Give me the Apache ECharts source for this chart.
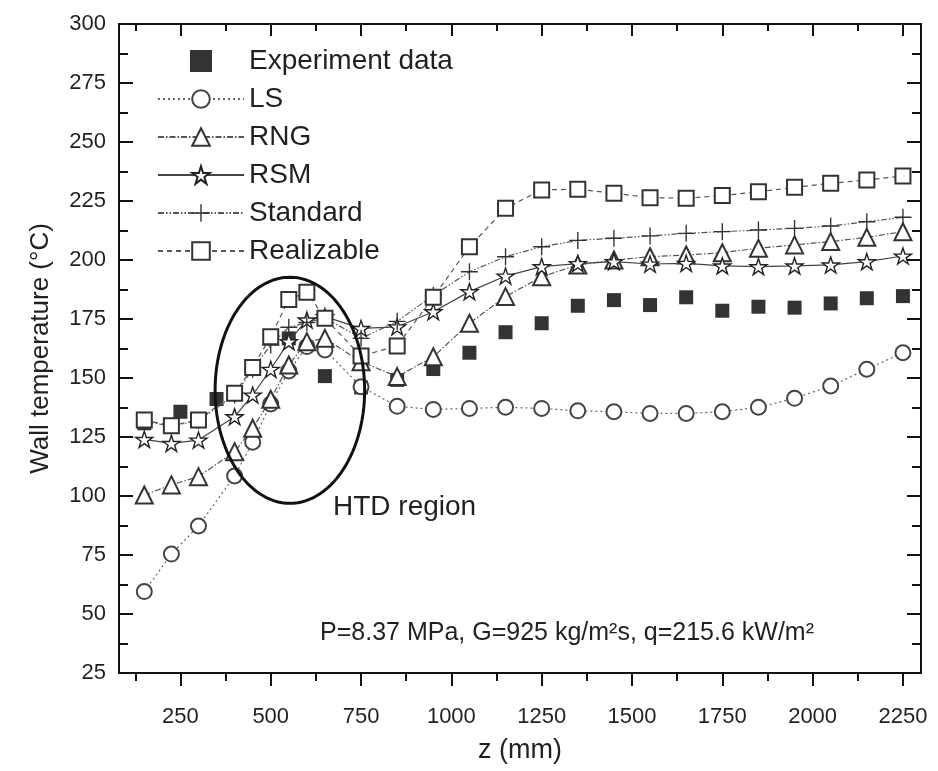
<!DOCTYPE html>
<html><head><meta charset="utf-8">
<script src="https://cdn.jsdelivr.net/npm/echarts@6/dist/echarts.min.js"></script>
<style>html,body{margin:0;padding:0;background:#fff}#c{width:938px;height:771px}</style>
</head><body><div id="c"></div>
<script>
// ---- data ----
const zSim = [150,225,300,400,450,500,550,600,650,750,850,950,1050,1150,1250,1350,1450,1550,1650,1750,1850,1950,2050,2150,2250];
const zExp = [150,250,350,450,550,650,750,850,950,1050,1150,1250,1350,1450,1550,1650,1750,1850,1950,2050,2150,2250];
const expData = [130.8,135.7,141.1,154.5,166.8,150.8,146,149.2,153.8,160.7,169.4,173.2,180.6,183,180.9,184.2,178.5,180.2,179.8,181.6,183.8,184.7];
const lsData = [59.5,75.4,87.3,108.5,122.8,139,153,163.3,161.9,146.3,138,136.7,137.1,137.6,137.1,136.1,135.7,135,135,135.7,137.6,141.4,146.6,153.7,160.7];
const rngData = [100.4,104.7,108.2,118.8,128.7,141,155.5,165.4,166.8,156.9,150.6,159,173.2,184.5,192.9,197.9,200,201.4,202.1,203.1,205,206.4,207.8,209.6,212];
const rsmData = [124,122.3,123.7,133.6,142.8,153.7,165.4,174.6,176,171,171.7,178.1,186.6,193.2,197.2,198.5,199.3,198.3,198.6,197.5,197.2,197.5,197.9,199.3,201.7];
const stdData = [131.5,129.7,131.9,142.8,153.7,164,171.5,173.5,175.5,166.8,174,185,195,201.4,205.6,208.3,209.2,210.2,211.3,212,212.7,213.4,214.4,216.2,218.1];
const realData = [132.2,129.8,132.2,143.5,154.5,167.5,183.3,186.3,175.3,159.3,163.6,184.2,205.6,221.9,229.7,230,228.3,226.4,226.2,227.3,228.9,230.8,232.5,233.9,235.6];
const xMajorTicks = [250,500,750,1000,1250,1500,1750,2000,2250];
const xMinorTicks = [125,375,625,875,1125,1375,1625,1875,2125];
const seriesNames = ['Experiment data','LS','RNG','RSM','Standard','Realizable'];
const htd = {z:553, t:144.8, rz:207, rt:47.9};

const FONT = "'Liberation Sans', Arial, sans-serif";
const TXT = '#231f20';
function pairs(xs, ys){ return xs.map((x,i)=>[x, ys[i]]); }

const STAR = 'path://M50,2 L61.2,36.3 L97.6,36.3 L68.2,57.6 L79.4,92 L50,70.7 L20.6,92 L31.8,57.6 L2.4,36.3 L38.8,36.3 Z';
const PLUS = 'path://M46,0 H54 V46 H100 V54 H54 V100 H46 V54 H0 V46 H46 Z';
const SQUARE = 'path://M0,0 H10 V10 H0 Z';

const chart = echarts.init(document.getElementById('c'), null, {renderer:'canvas'});
const grid = {left:119, right:17, top:24, bottom:98};

function xAx(pos, ticks, len, inside, main){
  return {
    type:'value', position:pos, min:80, max:2300, gridIndex:0,
    axisLine:{show:!!main, lineStyle:{color:'#111', width:2}},
    axisTick:{show:true, customValues:ticks, length:len, inside:inside, lineStyle:{color:'#111', width:2}},
    axisLabel:{show: main && pos==='bottom', customValues:ticks, margin:33, fontFamily:FONT, fontSize:22, color:TXT,
               formatter: v => String(v)},
    splitLine:{show:false},
    name: (main && pos==='bottom') ? 'z (mm)' : '',
    nameLocation:'middle', nameGap:64,
    nameTextStyle:{fontFamily:FONT, fontSize:27, color:TXT}
  };
}

const option = {
  animation:false,
  backgroundColor:'#fff',
  grid:grid,
  xAxis:[
    xAx('bottom', xMajorTicks, 13, false, true),
    xAx('bottom', xMinorTicks, 8, false, false),
    xAx('top', xMajorTicks, 12, true, true),
    xAx('top', xMinorTicks, 7, true, false)
  ],
  yAxis:[
    {type:'value', position:'left', min:25, max:300, interval:25,
     axisLine:{show:true, lineStyle:{color:'#111', width:2}},
     axisTick:{show:true, inside:true, length:14, lineStyle:{color:'#111', width:2}},
     minorTick:{show:true, splitNumber:2, length:9, lineStyle:{color:'#111', width:2}},
     axisLabel:{margin:13, fontFamily:FONT, fontSize:22, color:TXT},
     splitLine:{show:false},
     name:'Wall temperature (°C)', nameLocation:'middle', nameGap:65, nameRotate:90,
     nameTextStyle:{fontFamily:FONT, fontSize:26, color:TXT}},
    {type:'value', position:'right', min:25, max:300, interval:25,
     axisLine:{show:true, lineStyle:{color:'#111', width:2}},
     axisTick:{show:true, inside:true, length:14, lineStyle:{color:'#111', width:2}},
     minorTick:{show:true, splitNumber:2, length:9, lineStyle:{color:'#111', width:2}},
     axisLabel:{show:false}, splitLine:{show:false}}
  ],
  legend:{
    orient:'vertical', left:152, top:42, itemWidth:86, itemHeight:22, itemGap:10,
    data:[
      {name:seriesNames[0], icon:SQUARE, itemStyle:{color:'#000'}},
      seriesNames[1], seriesNames[2], seriesNames[3], seriesNames[4], seriesNames[5]
    ],
    textStyle:{fontFamily:FONT, fontSize:28, color:TXT},
    selectedMode:false
  },
  series:[
    {name:'Experiment data', type:'scatter', data:pairs(zExp, expData), symbol:'rect', symbolSize:14,
     itemStyle:{color:'#000'}, z:2},
    {name:'LS', type:'line', data:pairs(zSim, lsData), symbol:'emptyCircle', symbolSize:15,
     lineStyle:{color:'#666', width:1.2, type:[2,3]}, itemStyle:{color:'#444', borderColor:'#444', borderWidth:1.4}, z:3},
    {name:'RNG', type:'line', data:pairs(zSim, rngData), symbol:'emptyTriangle', symbolSize:17,
     lineStyle:{color:'#555', width:1.2, type:[6,2,1.5,2]}, itemStyle:{color:'#333', borderColor:'#333', borderWidth:1.4}, z:3},
    {name:'RSM', type:'line', data:pairs(zSim, rsmData), symbol:STAR, symbolSize:17, symbolKeepAspect:true,
     lineStyle:{color:'#444', width:1.2, type:'solid'}, itemStyle:{color:'#fff', borderColor:'#222', borderWidth:1.4}, z:4},
    {name:'Standard', type:'line', data:pairs(zSim, stdData), symbol:PLUS, symbolSize:17, symbolKeepAspect:true,
     lineStyle:{color:'#555', width:1.2, type:[6,2,1.5,2,1.5,2]}, itemStyle:{color:'#333', borderWidth:0}, z:4},
    {name:'Realizable', type:'line', data:pairs(zSim, realData), symbol:'emptyRect', symbolSize:15,
     lineStyle:{color:'#555', width:1.2, type:[5,4]}, itemStyle:{color:'#333', borderColor:'#333', borderWidth:1.4}, z:5}
  ]
};
chart.setOption(option);

// annotations
const c0 = chart.convertToPixel({xAxisIndex:0, yAxisIndex:0}, [htd.z, htd.t]);
const cx1 = chart.convertToPixel({xAxisIndex:0, yAxisIndex:0}, [htd.z + htd.rz, htd.t + htd.rt]);
const rx = cx1[0] - c0[0], ry = c0[1] - cx1[1];
const pts = [];
for (let i = 0; i < 120; i++) { const a = i/120*2*Math.PI; pts.push([c0[0] + rx*Math.cos(a), c0[1] + ry*Math.sin(a)]); }
chart.setOption({
  graphic:[
    {type:'polygon', shape:{points:pts}, style:{fill:'none', stroke:'#111', lineWidth:3}, z:10},
    {type:'text', left:333, top:493, style:{text:'HTD region', fontFamily:FONT, fontSize:28, fill:TXT}, z:10},
    {type:'text', x:567, y:633, style:{text:'P=8.37 MPa, G=925 kg/m²s, q=215.6 kW/m²', fontFamily:FONT, fontSize:25, fill:TXT, align:'center', verticalAlign:'middle'}, z:10}
  ]
});
</script>
</body></html>
